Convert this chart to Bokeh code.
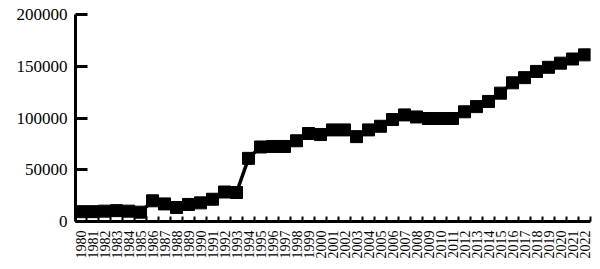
import math
from bokeh.plotting import figure
from bokeh.models import Range1d, FixedTicker
from bokeh.embed import file_html
from bokeh.resources import INLINE

years = [str(y) for y in range(1980, 2023)]
values = [9500, 9500, 10000, 10500, 10000, 9000, 20000, 17000, 13500, 16500,
          18000, 21500, 28500, 28000, 61000, 72000, 72500, 72500, 78000, 85000,
          84000, 88500, 88500, 82000, 88500, 92000, 98500, 103000, 101000, 99500,
          99500, 99500, 106000, 111000, 116000, 124000, 134000, 139000, 145000, 149000,
          153000, 157000, 161000]
y_ticks = [0, 50000, 100000, 150000, 200000]

xs = list(range(len(years)))

p = figure(width=592, height=261, output_backend="svg", toolbar_location=None,
           x_range=Range1d(-0.42, len(years) - 0.5), y_range=Range1d(0, 200000),
           min_border_left=75, min_border_top=14, min_border_right=2, min_border_bottom=40)
p.outline_line_color = None
p.xgrid.visible = False
p.ygrid.visible = False
p.background_fill_color = "white"
p.border_fill_color = "white"

p.line(xs, values, line_color="black", line_width=3.5)
p.scatter(xs, values, marker="square", size=12, fill_color="black", line_color="black")

xa = p.xaxis[0]
xa.ticker = FixedTicker(ticks=xs, minor_ticks=[i + 0.5 for i in range(-1, len(years))])
xa.major_label_overrides = {i: y for i, y in enumerate(years)}
xa.major_label_orientation = math.pi / 2
xa.major_tick_in = 0
xa.major_tick_out = 0
xa.minor_tick_in = 5
xa.minor_tick_out = 0
xa.minor_tick_line_width = 2
xa.minor_tick_line_color = "black"
xa.axis_line_width = 3
xa.axis_line_color = "black"
xa.major_label_text_font = "Liberation Serif"
xa.major_label_text_font_size = "14px"
xa.major_label_text_color = "black"
xa.major_label_standoff = 9

ya = p.yaxis[0]
ya.ticker = FixedTicker(ticks=y_ticks, minor_ticks=[])
ya.major_label_overrides = {v: str(v) for v in y_ticks}
ya.major_tick_in = 12
ya.major_tick_out = 0
ya.major_tick_line_width = 3
ya.major_tick_line_color = "black"
ya.minor_tick_in = 0
ya.minor_tick_out = 0
ya.axis_line_width = 3
ya.axis_line_color = "black"
ya.major_label_text_font = "Liberation Serif"
ya.major_label_text_font_size = "17px"
ya.major_label_text_color = "black"
ya.major_label_standoff = 8

open("out.html", "w").write(file_html(p, INLINE))
